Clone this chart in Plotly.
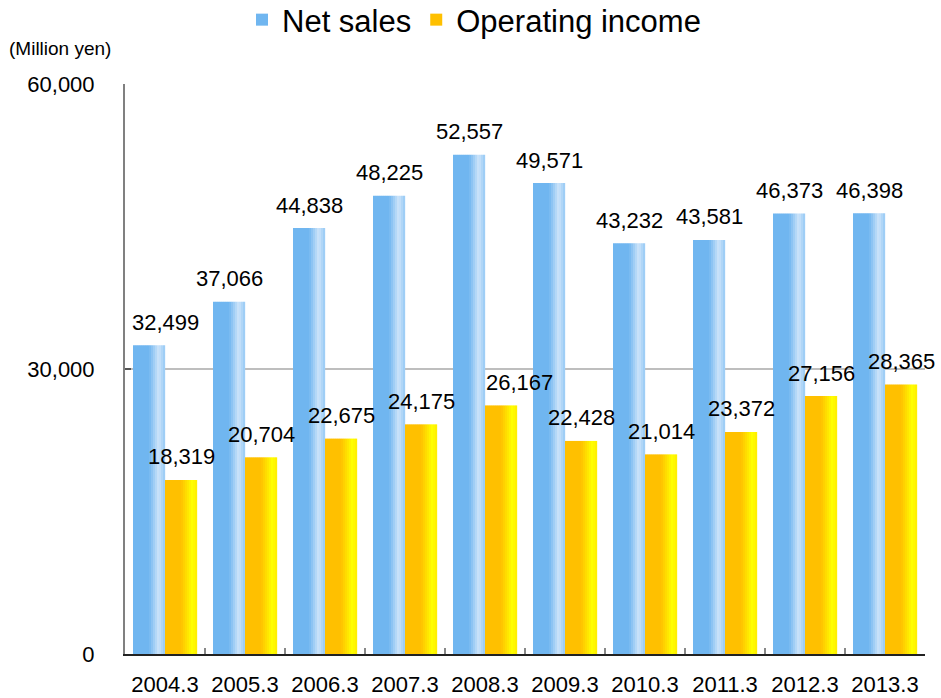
import plotly.graph_objects as go

years = ["2004.3", "2005.3", "2006.3", "2007.3", "2008.3",
         "2009.3", "2010.3", "2011.3", "2012.3", "2013.3"]
net_sales = [32499, 37066, 44838, 48225, 52557, 49571, 43232, 43581, 46373, 46398]
operating_income = [18319, 20704, 22675, 24175, 26167, 22428, 21014, 23372, 27156, 28365]
y_ticks = [0, 30000, 60000]
y_tick_text = ["0", "30,000", "60,000"]

FONT = "Liberation Sans, Arial, sans-serif"
BAR_W = 0.4
N = 16

def lerp(c1, c2, f):
    return tuple(round(a + (b - a) * f) for a, b in zip(c1, c2))

def blue_at(t):
    base, light, edge = (112, 182, 240), (205, 228, 250), (150, 202, 245)
    if t < 0.5:
        return base
    if t < 0.8:
        return lerp(base, light, (t - 0.5) / 0.3)
    return lerp(light, edge, (t - 0.8) / 0.2)

def yellow_at(t):
    base, light, edge = (255, 192, 0), (255, 255, 0), (255, 236, 0)
    if t < 0.5:
        return base
    if t < 0.85:
        return lerp(base, light, (t - 0.5) / 0.35)
    return lerp(light, edge, (t - 0.85) / 0.15)

fig = go.Figure()

series = [
    ("Net sales", net_sales, blue_at, -BAR_W),
    ("Operating income", operating_income, yellow_at, 0.0),
]
for name, vals, cfun, start in series:
    sw = BAR_W / N
    for k in range(N):
        t = (k + 0.5) / N
        c = cfun(t)
        fig.add_trace(go.Bar(
            x=years, y=vals, name=name, legendgroup=name,
            showlegend=(k == 0),
            marker=dict(color=f"rgb{c}", line=dict(width=0)),
            offset=start + k * sw, width=sw * 1.08,
            hoverinfo="skip" if k else None,
        ))

# data labels
blue_shift = {0: 16}
yellow_shift = {4: 18}
LBL = 22
ann = []
for i, v in enumerate(net_sales):
    ann.append(dict(x=i - BAR_W / 2, y=v, xref="x", yref="y", text=f"{v:,}",
                    showarrow=False, yanchor="middle", yshift=23,
                    xshift=blue_shift.get(i, 0),
                    font=dict(family=FONT, size=LBL, color="#000")))
for i, v in enumerate(operating_income):
    ann.append(dict(x=i + BAR_W / 2, y=v, xref="x", yref="y", text=f"{v:,}",
                    showarrow=False, yanchor="middle", yshift=23,
                    xshift=yellow_shift.get(i, 0),
                    font=dict(family=FONT, size=LBL, color="#000")))
ann.append(dict(x=(7 - 125) / 800, y=(654 - 48) / 570, xref="paper", yref="paper",
                text="(Million yen)", showarrow=False, xanchor="left", yanchor="middle",
                font=dict(family=FONT, size=19, color="#000")))

fig.update_layout(
    width=941, height=698,
    margin=dict(l=125, r=16, t=84, b=44, pad=0, autoexpand=False),
    paper_bgcolor="white", plot_bgcolor="white",
    barmode="overlay", bargap=0.2,
    font=dict(family=FONT, size=22, color="#000"),
    showlegend=True,
    legend=dict(orientation="h", xref="container", x=474 / 941, xanchor="center",
                yref="container", y=1 - 20 / 698, yanchor="middle",
                font=dict(family=FONT, size=31, color="#000"),
                itemwidth=30, tracegroupgap=0, bgcolor="rgba(0,0,0,0)"),
    annotations=ann,
    xaxis=dict(type="category", showline=True, linecolor="#222", linewidth=2,
               ticks="inside", tickson="boundaries", ticklen=6, tickcolor="#888",
               tickwidth=1.5, showgrid=False, ticklabelstandoff=10,
               tickfont=dict(family=FONT, size=22, color="#000"),
               range=[-0.5, 9.5]),
    yaxis=dict(range=[0, 60000], tickvals=y_ticks, ticktext=y_tick_text,
               showline=True, linecolor="#808080", linewidth=2,
               ticks="inside", ticklen=6, tickcolor="#555", tickwidth=1.5,
               showgrid=True, gridcolor="#BEBEBE", gridwidth=1.5,
               zeroline=False, ticklabelstandoff=24,
               tickfont=dict(family=FONT, size=22, color="#000")),
)

fig.write_html("out.html", config={"displayModeBar": False},
               post_script="document.body.style.margin='0';")
